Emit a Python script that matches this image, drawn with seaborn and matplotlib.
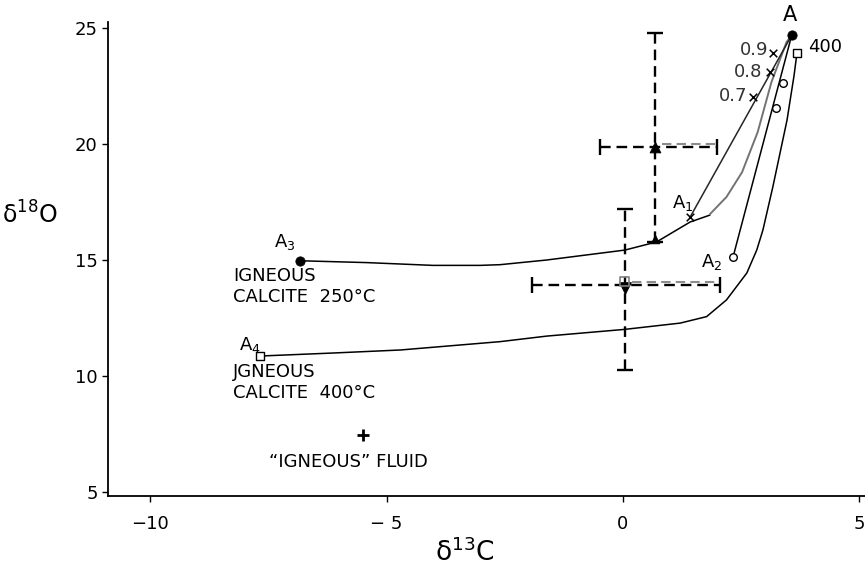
import matplotlib
matplotlib.use("Agg")
import matplotlib.pyplot as plt
import seaborn as sns
import pandas as pd

sns.set_theme(style="white")
plt.rcParams["font.family"] = ["DejaVu Sans"]
plt.rcParams["mathtext.fontset"] = "dejavusans"
plt.rcParams["text.color"] = "black"
plt.rcParams["xtick.color"] = "black"
plt.rcParams["ytick.color"] = "black"

# ---------------- data ----------------
# 250 C igneous calcite curve: A3 -> A1 region
c250_x = [-6.84, -5.42, -4.02, -3.02, -2.60, -1.62, 0.04, 0.71, 1.42, 1.84]
c250_y = [14.97, 14.89, 14.77, 14.77, 14.80, 15.00, 15.43, 15.78, 16.64, 16.94]
# continuation (grey) of that curve up to A
cgrey_x = [1.84, 2.19, 2.52, 2.85, 3.14, 3.46, 3.57]
cgrey_y = [16.98, 17.72, 18.79, 20.52, 22.67, 24.40, 24.70]
# 400 C igneous calcite curve: A4 -> "400"
c400_x = [-7.67, -6.13, -4.71, -2.60, -1.61, 0.04, 1.21, 1.77, 2.19, 2.62, 2.83,
          2.96, 3.17, 3.47, 3.62, 3.68]
c400_y = [10.86, 10.99, 11.12, 11.48, 11.72, 12.01, 12.28, 12.56, 13.28, 14.44,
          15.43, 16.29, 18.15, 21.03, 22.97, 23.92]
# straight mixing lines
mixA1_x = [1.42, 3.57]
mixA1_y = [16.85, 24.70]
mixA2_x = [2.33, 3.57]
mixA2_y = [15.14, 24.70]

# end members
pointA = (3.57, 24.70)
point400 = (3.68, 23.92)
pointA1 = (1.42, 16.85)
pointA2 = (2.33, 15.14)
pointA3 = (-6.84, 14.97)
pointA4 = (-7.67, 10.86)
fluid = (-5.50, 7.46)

# mixing fractions on A1-A line
frac_labels = ["0.9", "0.8", "0.7"]
frac_x = [3.18, 3.11, 2.75]
frac_y = [23.91, 23.12, 22.04]
# small open circles on A2-A line
circ_x = [3.39, 3.23]
circ_y = [22.62, 21.55]

# error crosses (mean, range)
bar1_x, bar1_y = 0.68, 19.88
bar1_xlo, bar1_xhi = -0.49, 1.98
bar1_ylo, bar1_yhi = 15.80, 24.81
bar2_x, bar2_y = 0.04, 13.92
bar2_xlo, bar2_xhi = -1.93, 2.05
bar2_ylo, bar2_yhi = 10.26, 17.19

xticks = [-10, -5, 0, 5]
xticklabels = ["\u221210", "\u2212 5", "0", "5"]
yticks = [5, 10, 15, 20, 25]

# ---------------- figure ----------------
fig = plt.figure(figsize=(8.65, 5.84), dpi=100)
fig.patch.set_facecolor("white")
ax = fig.add_axes([0.125, 0.151, 0.875, 0.811])
ax.set_facecolor("white")

lw = 1.1
df250 = pd.DataFrame({"x": c250_x, "y": c250_y})
dfgrey = pd.DataFrame({"x": cgrey_x, "y": cgrey_y})
df400 = pd.DataFrame({"x": c400_x, "y": c400_y})
sns.lineplot(data=df250, x="x", y="y", sort=False, color="black", lw=lw, ax=ax)
sns.lineplot(data=dfgrey, x="x", y="y", sort=False, color="0.45", lw=1.4, ax=ax)
sns.lineplot(data=df400, x="x", y="y", sort=False, color="black", lw=lw, ax=ax)
sns.lineplot(x=mixA1_x, y=mixA1_y, sort=False, color="0.15", lw=lw, ax=ax)
sns.lineplot(x=mixA2_x, y=mixA2_y, sort=False, color="black", lw=lw, ax=ax)

# error crosses
dash = (0, (4.5, 2.5))
for (bx, by, xlo, xhi, ylo, yhi) in [
    (bar1_x, bar1_y, bar1_xlo, bar1_xhi, bar1_ylo, bar1_yhi),
    (bar2_x, bar2_y, bar2_xlo, bar2_xhi, bar2_ylo, bar2_yhi),
]:
    eb = ax.errorbar([bx], [by], xerr=[[bx - xlo], [xhi - bx]],
                     yerr=[[by - ylo], [yhi - by]], fmt="none", ecolor="black",
                     elinewidth=1.7, capsize=6, capthick=1.7, zorder=3)
    for coll in eb[2]:
        coll.set_linestyle(dash)
    # ghost second dashed line on right half
    ax.plot([bx + 0.15, xhi], [by + 0.13, by + 0.13], color="0.55", lw=1.5,
            ls=dash, zorder=2)

# markers at crosses
sns.scatterplot(x=[bar1_x], y=[bar1_y], marker="^", s=60, color="black",
                edgecolor="black", ax=ax, zorder=5)
sns.scatterplot(x=[bar1_x], y=[bar1_ylo + 0.1], marker="^", s=40, color="black",
                edgecolor="black", ax=ax, zorder=5)
sns.scatterplot(x=[bar2_x], y=[bar2_y - 0.14], marker="v", s=70, color="black",
                edgecolor="black", ax=ax, zorder=5)
sns.scatterplot(x=[bar2_x], y=[bar2_y + 0.14], marker="s", s=40, color="none",
                edgecolor="0.5", linewidth=1.2, ax=ax, zorder=5)

# end member markers
sns.scatterplot(x=[pointA[0], pointA3[0]], y=[pointA[1], pointA3[1]], marker="o",
                s=45, color="black", edgecolor="black", ax=ax, zorder=6)
sns.scatterplot(x=[point400[0], pointA4[0]], y=[point400[1], pointA4[1]],
                marker="s", s=30, color="white", edgecolor="black",
                linewidth=1.0, ax=ax, zorder=6)
sns.scatterplot(x=[pointA2[0]] + circ_x, y=[pointA2[1]] + circ_y, marker="o",
                s=30, color="white", edgecolor="black", linewidth=1.0, ax=ax,
                zorder=6)
sns.scatterplot(x=[pointA1[0]] + frac_x, y=[pointA1[1]] + frac_y, marker="x",
                s=30, color="black", linewidth=1.1, ax=ax, zorder=6)
ax.plot([fluid[0]], [fluid[1]], marker="+", ms=9, mew=2.0, color="black",
        ls="none", zorder=6)

# ---------------- text ----------------
fs = 13
ax.text(3.53, 25.56, "A", fontsize=15, ha="center", va="center")
ax.text(3.91, 24.18, "400", fontsize=fs, ha="left", va="center")
for lab, tx, ty in zip(frac_labels, [3.07, 2.94, 2.64], [24.05, 23.10, 22.07]):
    ax.text(tx, ty, lab, fontsize=fs, ha="right", va="center", color="0.2")
ax.text(1.27, 17.46, r"A$_1$", fontsize=fs, ha="center", va="center")
ax.text(1.88, 14.91, r"A$_2$", fontsize=fs, ha="center", va="center")
ax.text(-7.15, 15.78, r"A$_3$", fontsize=fs, ha="center", va="center")
ax.text(-7.89, 11.34, r"A$_4$", fontsize=fs, ha="center", va="center")
ax.text(-8.25, 14.31, "IGNEOUS", fontsize=fs, ha="left", va="center")
ax.text(-8.25, 13.41, "CALCITE  250\u00b0C", fontsize=fs, ha="left", va="center")
ax.text(-8.25, 10.17, "JGNEOUS", fontsize=fs, ha="left", va="center")
ax.text(-8.25, 9.27, "CALCITE  400\u00b0C", fontsize=fs, ha="left", va="center")
ax.text(-5.81, 6.29, "\u201cIGNEOUS\u201d FLUID", fontsize=fs, ha="center",
        va="center")

# ---------------- axes ----------------
ax.set_xlim(-10.89, 5.12)
ax.set_ylim(4.83, 25.26)
ax.set_xticks(xticks)
ax.set_xticklabels(xticklabels)
ax.set_yticks(yticks)
ax.set_xlabel("")
ax.set_ylabel("")
for s in ["top", "right"]:
    ax.spines[s].set_visible(False)
for s in ["left", "bottom"]:
    ax.spines[s].set_color("black")
    ax.spines[s].set_linewidth(1.3)
ax.tick_params(axis="both", direction="out", length=4, width=1.0,
               colors="black", labelsize=13, left=True, bottom=True)
ax.tick_params(axis="x", pad=10)

fig.text(30 / 865, 1 - 215 / 584, "\u03b4$^{18}$O", fontsize=17,
         ha="center", va="center")
fig.text(465 / 865, 1 - 553 / 584, "\u03b4$^{13}$C", fontsize=19,
         ha="center", va="center")

fig.savefig("out.png", dpi=100, facecolor="white")
